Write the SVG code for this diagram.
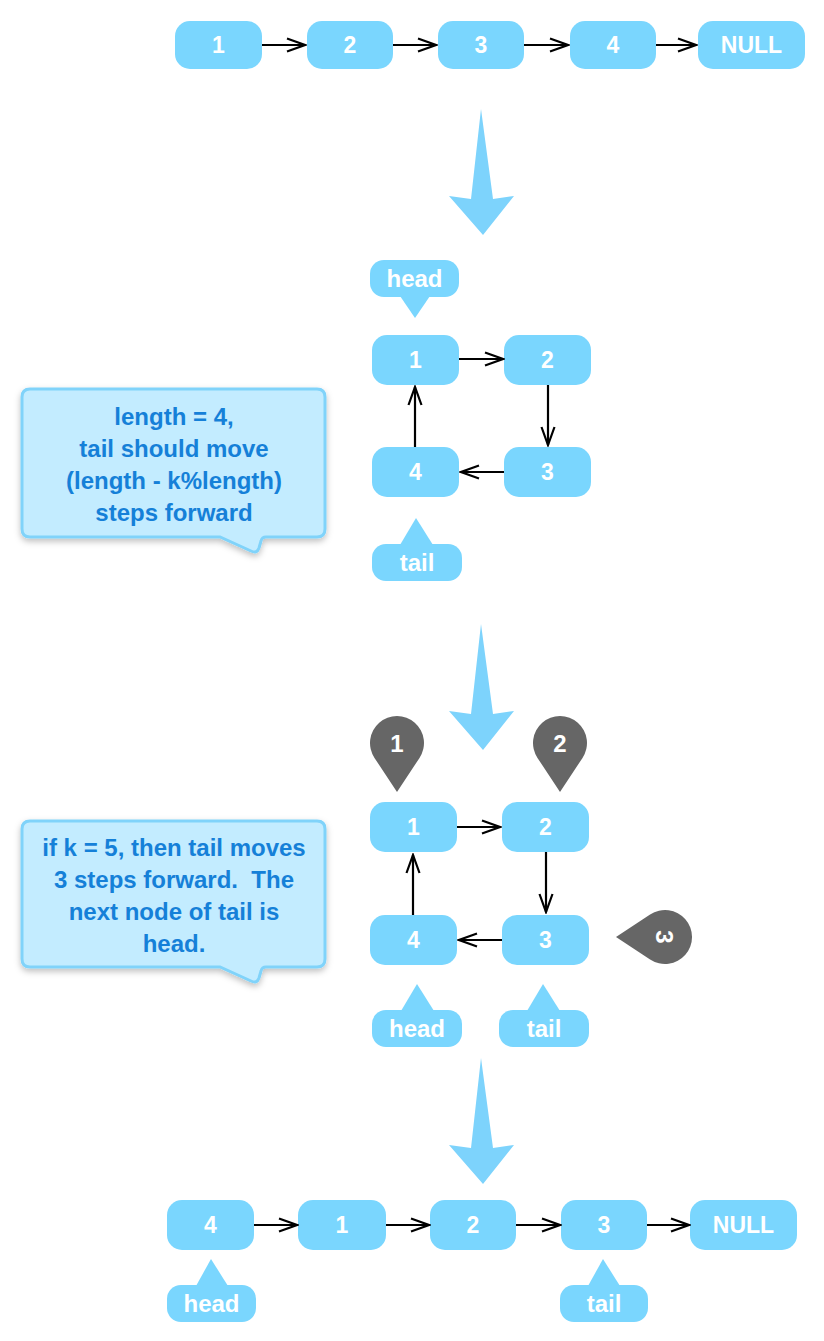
<svg xmlns="http://www.w3.org/2000/svg" width="824" height="1341" viewBox="0 0 824 1341">
<style>
.node rect{fill:#7AD6FE}
.node text,.bubble text{fill:#fff;font-family:"Liberation Sans",Arial,sans-serif;font-weight:bold;text-anchor:middle}
.node text{font-size:23px}
.bubble text{font-size:24px}
.bubble rect,.bubble path{fill:#7AD6FE}
.big{fill:#7DD3FC}
.pin{fill:#666666}
.pin text{fill:#fff;font-family:"Liberation Sans",Arial,sans-serif;font-weight:bold;font-size:24px;text-anchor:middle}
.callout path{fill:#C3ECFF;stroke:#80D3FA;stroke-width:3;filter:url(#sh)}
.callout text{fill:#1580D8;font-family:"Liberation Sans",Arial,sans-serif;font-weight:bold;font-size:24px;text-anchor:middle;white-space:pre}
.link{stroke:#000;stroke-width:2.2;fill:none;marker-end:url(#arr)}
</style>
<defs>
<marker id="arr" markerUnits="userSpaceOnUse" markerWidth="22" markerHeight="16" viewBox="0 0 22 16" refX="20" refY="8" orient="auto">
<path d="M2,1.5 L20,8 L2,14.5" fill="none" stroke="#000" stroke-width="2.2"/>
</marker>
<filter id="sh" x="-10%" y="-10%" width="120%" height="130%">
<feDropShadow dx="0" dy="3" stdDeviation="3" flood-color="#000" flood-opacity="0.25"/>
</filter>
<path id="bigarrow" d="M481,109 L493,199 L514,196 L483,235 L449,196 L471,199 Z"/>
<path id="pinshape" d="M0,49 L-22.5,14.9 A27,27 0 1 1 22.5,14.9 Z"/>
</defs>

<!-- Row 1 -->
<g id="r1n1" class="node"><rect x="175" y="21" width="87" height="48" rx="15"/><text x="218.5" y="53">1</text></g>
<g id="r1n2" class="node"><rect x="307" y="21" width="86" height="48" rx="15"/><text x="350" y="53">2</text></g>
<g id="r1n3" class="node"><rect x="438" y="21" width="86" height="48" rx="15"/><text x="481" y="53">3</text></g>
<g id="r1n4" class="node"><rect x="570" y="21" width="86" height="48" rx="15"/><text x="613" y="53">4</text></g>
<g id="r1null" class="node"><rect x="698" y="21" width="107" height="48" rx="15"/><text x="751.5" y="53">NULL</text></g>

<!-- big arrows -->
<g id="bigarrow1" class="big"><use href="#bigarrow"/></g>
<g id="bigarrow2" class="big"><use href="#bigarrow" transform="translate(0,515)"/></g>
<g id="bigarrow3" class="big"><use href="#bigarrow" transform="translate(0,949)"/></g>

<!-- Section 2 -->
<g id="s2head" class="bubble"><rect x="370" y="260" width="89" height="37" rx="14"/><path d="M400,296 L430,296 L415,318 Z"/><text x="414.5" y="287">head</text></g>
<g id="s2n1" class="node"><rect x="372" y="335" width="87" height="50" rx="15"/><text x="415.5" y="368">1</text></g>
<g id="s2n2" class="node"><rect x="504" y="335" width="87" height="50" rx="15"/><text x="547.5" y="368">2</text></g>
<g id="s2n4" class="node"><rect x="372" y="447" width="87" height="50" rx="15"/><text x="415.5" y="480">4</text></g>
<g id="s2n3" class="node"><rect x="504" y="447" width="87" height="50" rx="15"/><text x="547.5" y="480">3</text></g>
<g id="s2tail" class="bubble"><rect x="372" y="544" width="90" height="37" rx="14"/><path d="M400,545 L433,545 L416,518 Z"/><text x="417" y="571">tail</text></g>

<g id="callout1" class="callout">
<path d="M30,389 H317 Q325,389 325,397 V529 Q325,537 317,537 H266 Q262,537 261,541 L259,548 Q257,554 251,551 L220,537 H30 Q22,537 22,529 V397 Q22,389 30,389 Z"/>
<text x="174" y="425">length = 4,</text>
<text x="174" y="457">tail should move</text>
<text x="174" y="489">(length - k%length)</text>
<text x="174" y="521">steps forward</text>
</g>

<!-- Section 3 -->
<g id="pin1" class="pin" transform="translate(397,743)"><use href="#pinshape"/><text x="0" y="9">1</text></g>
<g id="pin2" class="pin" transform="translate(560,743)"><use href="#pinshape"/><text x="0" y="9">2</text></g>
<g id="pin3" class="pin" transform="translate(665,937) rotate(90)"><use href="#pinshape"/><text x="0" y="9">3</text></g>
<g id="s3n1" class="node"><rect x="370" y="802" width="87" height="50" rx="15"/><text x="413.5" y="835">1</text></g>
<g id="s3n2" class="node"><rect x="502" y="802" width="87" height="50" rx="15"/><text x="545.5" y="835">2</text></g>
<g id="s3n4" class="node"><rect x="370" y="915" width="87" height="50" rx="15"/><text x="413.5" y="948">4</text></g>
<g id="s3n3" class="node"><rect x="502" y="915" width="87" height="50" rx="15"/><text x="545.5" y="948">3</text></g>
<g id="s3head" class="bubble"><rect x="372" y="1010" width="90" height="37" rx="14"/><path d="M401,1011 L434,1011 L417,984 Z"/><text x="417" y="1037">head</text></g>
<g id="s3tail" class="bubble"><rect x="499" y="1010" width="90" height="37" rx="14"/><path d="M527,1011 L560,1011 L543,984 Z"/><text x="544" y="1037">tail</text></g>

<g id="callout2" class="callout">
<path d="M30,821 H317 Q325,821 325,829 V959 Q325,967 317,967 H266 Q262,967 261,971 L259,978 Q257,984 251,981 L220,967 H30 Q22,967 22,959 V829 Q22,821 30,821 Z"/>
<text x="174" y="856">if k = 5, then tail moves</text>
<text x="174" y="888">3 steps forward.  The</text>
<text x="174" y="920">next node of tail is</text>
<text x="174" y="952">head.</text>
</g>

<!-- Bottom row -->
<g id="r4n4" class="node"><rect x="167" y="1200" width="87" height="50" rx="15"/><text x="210.5" y="1233">4</text></g>
<g id="r4n1" class="node"><rect x="298" y="1200" width="88" height="50" rx="15"/><text x="342" y="1233">1</text></g>
<g id="r4n2" class="node"><rect x="430" y="1200" width="86" height="50" rx="15"/><text x="473" y="1233">2</text></g>
<g id="r4n3" class="node"><rect x="561" y="1200" width="86" height="50" rx="15"/><text x="604" y="1233">3</text></g>
<g id="r4null" class="node"><rect x="690" y="1200" width="107" height="50" rx="15"/><text x="743.5" y="1233">NULL</text></g>
<g id="r4head" class="bubble"><rect x="167" y="1285" width="89" height="37" rx="14"/><path d="M196,1286 L228,1286 L211,1259 Z"/><text x="211.5" y="1312">head</text></g>
<g id="r4tail" class="bubble"><rect x="560" y="1285" width="88" height="37" rx="14"/><path d="M588,1286 L620,1286 L603,1259 Z"/><text x="604" y="1312">tail</text></g>

<g id="connectors">
<path class="link" d="M262,45 H305"/>
<path class="link" d="M393,45 H436"/>
<path class="link" d="M524,45 H568"/>
<path class="link" d="M656,45 H696"/>

<path class="link" d="M459,359 H503"/>
<path class="link" d="M548,385 V445"/>
<path class="link" d="M504,472 H461"/>
<path class="link" d="M415,447 V387"/>

<path class="link" d="M457,827 H500"/>
<path class="link" d="M546,852 V912"/>
<path class="link" d="M502,940 H459"/>
<path class="link" d="M413,915 V855"/>

<path class="link" d="M254,1225 H297"/>
<path class="link" d="M386,1225 H429"/>
<path class="link" d="M516,1225 H560"/>
<path class="link" d="M647,1225 H689"/>
</g>
</svg>
